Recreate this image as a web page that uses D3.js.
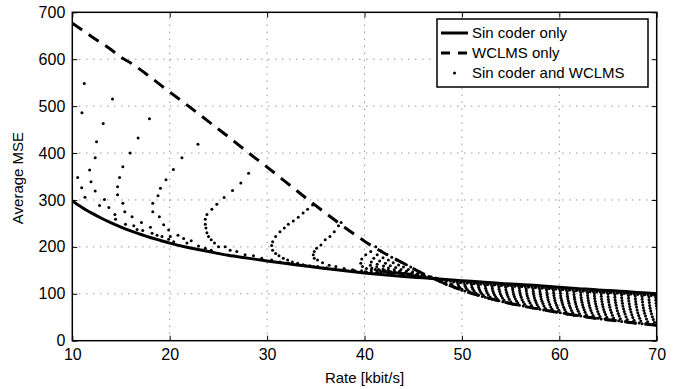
<!DOCTYPE html>
<html>
<head>
<meta charset="utf-8">
<script src="https://cdn.jsdelivr.net/npm/d3@7"></script>
<style>
  body { margin: 0; background: #fff; }
  text { font-family: "Liberation Sans", Arial, Helvetica, sans-serif; fill: #000; }
</style>
</head>
<body>
<div id="app"></div>
<script>
// axis ticks
const xTicks = [10, 20, 30, 40, 50, 60, 70];
const yTicks = [0, 100, 200, 300, 400, 500, 600, 700];

// "Sin coder only" curve
const sinRate = [10, 11, 12, 13, 14, 15, 16, 17, 18, 19, 20, 22, 24, 26, 28, 30, 32, 34, 36, 38, 40, 42, 44, 46, 48, 50, 52, 54, 56, 58, 60, 62, 64, 66, 68, 70];
const sinMse = [298, 284, 272, 261, 251, 242, 234, 227, 220, 214, 208, 198, 190, 182, 176, 170, 164.5, 159, 154, 149, 144.5, 140.5, 137, 134, 131, 128, 125, 122, 120, 117, 114, 111, 108, 106, 103, 100];

// "WCLMS only" curve
const wclmsRate = [10, 12, 14, 15, 16, 18, 20, 22, 24, 26, 28, 30, 32, 34, 36, 38, 40, 42, 44, 46, 48, 50, 52, 54, 56, 58, 60, 62, 64, 66, 68, 70];
const wclmsMse = [677, 648, 620, 604, 592, 562, 530, 499, 467, 435, 402, 370, 337, 304, 272, 241, 212, 187, 165, 143, 124, 108, 95, 84, 75, 67, 60, 53, 47, 42, 37, 33];

// "Sin coder and WCLMS" operating points, [rate, mse], left sparse part
const comboLeft = [
  [11.23, 548], [14.13, 515], [10.99, 486], [17.92, 473], [13.17, 463], [16.76, 432], [12.49, 424],
  [15.94, 400], [12.35, 390], [15.19, 371], [11.78, 364], [10.55, 348], [14.85, 348], [11.92, 339],
  [14.65, 328], [10.96, 326], [12.35, 319], [14.65, 311], [11.3, 306], [13.3, 301], [12.8, 288],
  [13.75, 284], [15.19, 293], [14.37, 269], [15.39, 275], [14.44, 259], [16.14, 264], [15.46, 248],
  [17.1, 252], [16.31, 245], [18.02, 242], [16.65, 237], [17.23, 235], [18.19, 229], [18.7, 225],
  [19.21, 222], [20.85, 225], [20.06, 222], [21.43, 218], [19.89, 216], [20.41, 211], [22.21, 213],
  [21.77, 208], [22.96, 202], [23.65, 197], [24.26, 193],
  [22.9, 419], [21.25, 390], [20.38, 365], [19.62, 343], [19.05, 325], [18.8, 309], [18.26, 293],
  [18.26, 275], [18.94, 264], [19.38, 247], [19.89, 236]
];

// C-shaped runs starting on the WCLMS curve, 24 to 47 kbit/s
const comboMid = [
  [[28.1, 357], [27.3, 336], [26.45, 320], [25.59, 305], [24.84, 291], [24.33, 280], [23.82, 269], [23.65, 259],
   [23.65, 248], [23.72, 240], [23.82, 230], [23.99, 222], [24.26, 215], [24.6, 208], [25.01, 200], [25.69, 200],
   [26.21, 193], [26.89, 190], [27.74, 183], [28.6, 181], [29.45, 176], [30.47, 172], [31.32, 168], [32.2, 165],
   [33.1, 162], [33.9, 160], [34.8, 157.5], [35.8, 155], [36.8, 152.5], [37.9, 150.5], [39.0, 148.5], [40.2, 146.5],
   [41.4, 144.5], [42.7, 142.5], [44.0, 140.5], [45.4, 138.5], [46.8, 136.5]],
  [[34.67, 289], [34.16, 280], [33.7, 272], [33.2, 263], [32.69, 255], [32.18, 248], [31.77, 240], [31.32, 232],
   [30.88, 222], [30.57, 211], [30.47, 203], [30.57, 193], [30.88, 186], [31.22, 181], [31.66, 176], [32.11, 172],
   [32.59, 168], [33.13, 165], [33.7, 162], [34.4, 160], [35.2, 158], [36.1, 155.5], [37.0, 153], [38.0, 151],
   [39.0, 149], [40.1, 147], [41.2, 145], [42.4, 143]],
  [[37.6, 252], [37.33, 245], [36.9, 232], [36.45, 222], [35.97, 215], [35.53, 204], [35.08, 197], [34.84, 190],
   [34.74, 183], [34.84, 176], [35.18, 172], [35.69, 166], [36.37, 161], [37.06, 158], [37.9, 154], [38.77, 151],
   [39.7, 149], [40.7, 147], [41.7, 145.5], [42.8, 143.5], [43.9, 141.5], [45.0, 139.5], [46.2, 137.5]],
  [[41.16, 200], [40.64, 190], [40.13, 183], [39.72, 174], [39.62, 165], [39.79, 158], [40.2, 154], [40.7, 151],
   [41.3, 149], [42, 147], [42.8, 145], [43.6, 143], [44.5, 141]],
  [[41.7, 191], [41.3, 183], [40.95, 176], [40.7, 168], [40.6, 161], [40.75, 155], [41.1, 151.5], [41.6, 149],
   [42.2, 147], [42.9, 145]],
  [[42.3, 184], [41.9, 177], [41.55, 170], [41.3, 163], [41.25, 157], [41.45, 152], [41.9, 149], [42.5, 147],
   [43.2, 145], [44, 143], [44.9, 141]],
  [[42.8, 178], [42.45, 172], [42.15, 165], [41.95, 159], [41.9, 153], [42.1, 149.5], [42.5, 147], [43.1, 145], [43.8, 143.5]],
  [[43.3, 172], [42.95, 166], [42.65, 160], [42.45, 155], [42.45, 150], [42.7, 147], [43.2, 145], [43.8, 143.5],
   [44.5, 142], [45.3, 140]],
  [[43.8, 167], [43.5, 161.5], [43.2, 156], [43.05, 151], [43.1, 147], [43.45, 145], [44, 143], [44.6, 141.5]],
  [[44.3, 162], [44, 157], [43.75, 152], [43.6, 148], [43.7, 145], [44.1, 143], [44.7, 141.5], [45.4, 140], [46.1, 138.5]],
  [[44.75, 157], [44.5, 152], [44.3, 148], [44.2, 144.5], [44.4, 142], [44.9, 140.5], [45.5, 139.3]],
  [[45.2, 151], [44.95, 147], [44.8, 143.5], [44.9, 141], [45.3, 139.5], [45.9, 138.5], [46.6, 137]],
  [[45.65, 147], [45.45, 143.5], [45.35, 140.5], [45.5, 138.5], [46, 137.3], [46.6, 136]],
  [[46.1, 142], [45.9, 139], [45.85, 137], [46.15, 135.5], [46.7, 134.5], [47.3, 133.5]],
  [[46.9, 134], [46.75, 133], [47.0, 132.5], [47.5, 132]]
];

// runs in the band between the two curves, 47 to 70 kbit/s
const comboBand = [
  [[48.2, 122], [48.0, 124], [47.8, 126], [47.7, 128], [47.9, 129]],
  [[48.9, 117], [48.4, 120], [48.2, 123], [48.4, 126], [48.8, 127]],
  [[49.6, 111], [49.22, 114.7], [49.0, 118.1], [48.9, 121.6], [49.15, 125], [49.5, 125]],
  [[50.3, 106], [50.0, 109.6], [49.79, 113.2], [49.66, 116.9], [49.6, 120.6], [49.85, 124], [50.2, 124]],
  [[51.0, 101], [50.75, 104.7], [50.56, 108.4], [50.43, 112.1], [50.34, 115.8], [50.3, 119.5], [50.55, 123], [50.9, 123]],
  [[51.7, 96.8], [51.45, 101.1], [51.26, 105.5], [51.13, 109.8], [51.04, 114.1], [51.0, 118.5], [51.25, 122], [51.6, 122]],
  [[52.4, 92.6], [52.19, 96.8], [52.02, 100.8], [51.89, 105], [51.8, 109.2], [51.73, 113.2], [51.7, 117.4], [51.95, 121], [52.3, 121]],
  [[53.1, 88.5], [52.89, 93.2], [52.72, 97.7], [52.59, 102.4], [52.5, 107.2], [52.43, 111.6], [52.4, 116.4], [52.65, 120], [53.0, 120]],
  [[53.8, 85], [53.62, 89.2], [53.46, 93.8], [53.34, 98], [53.25, 102.3], [53.18, 106.5], [53.12, 111.1], [53.1, 115.3], [53.35, 119], [53.7, 119]],
  [[54.5, 81.5], [54.32, 86.1], [54.16, 91], [54.04, 95.6], [53.95, 100.3], [53.88, 104.9], [53.82, 109.8], [53.8, 114.4], [54.05, 118], [54.4, 118]],
  [[55.2, 78.2], [55.02, 83.2], [54.86, 88.5], [54.74, 93.5], [54.65, 98.4], [54.58, 103.4], [54.52, 108.7], [54.5, 113.7], [54.75, 117.3], [55.1, 117.3]],
  [[55.9, 75.4], [55.74, 80.1], [55.6, 84.8], [55.48, 89.5], [55.39, 94.3], [55.31, 99], [55.26, 103.7], [55.22, 108.4], [55.2, 113.1], [55.45, 116.6], [55.8, 116.6]],
  [[56.6, 72.6], [56.44, 77.5], [56.3, 82.5], [56.18, 87.4], [56.09, 92.4], [56.01, 97.3], [55.96, 102.2], [55.92, 107.2], [55.9, 112.1], [56.15, 115.6], [56.5, 115.6]],
  [[57.3, 69.8], [57.14, 75], [57.0, 80.1], [56.88, 85.3], [56.79, 90.4], [56.71, 95.6], [56.66, 100.7], [56.62, 105.9], [56.6, 111], [56.85, 114.5], [57.2, 114.5]],
  [[58.0, 67], [57.86, 71.8], [57.72, 76.6], [57.62, 81.3], [57.53, 86.1], [57.45, 90.9], [57.4, 95.7], [57.35, 100.4], [57.32, 105.2], [57.3, 110], [57.55, 113.5], [57.9, 113.5]],
  [[58.7, 64.2], [58.56, 69.2], [58.42, 74.1], [58.32, 79.1], [58.23, 84.1], [58.15, 89.1], [58.1, 94], [58.05, 99], [58.02, 104], [58.0, 109], [58.25, 112.5], [58.6, 112.5]],
  [[59.4, 61.8], [59.26, 66.9], [59.12, 72], [59.02, 77.2], [58.93, 82.3], [58.85, 87.4], [58.8, 92.5], [58.75, 97.7], [58.72, 102.8], [58.7, 107.9], [58.95, 111.4], [59.3, 111.4]],
  [[60.1, 59.6], [59.96, 64.9], [59.82, 70.1], [59.72, 75.4], [59.63, 80.6], [59.55, 85.9], [59.5, 91.1], [59.45, 96.4], [59.42, 101.6], [59.4, 106.9], [59.65, 110.4], [60.0, 110.4]],
  [[60.8, 56.8], [60.67, 61.7], [60.55, 66.6], [60.45, 71.5], [60.36, 76.4], [60.29, 81.3], [60.23, 86.2], [60.18, 91.1], [60.14, 96], [60.11, 100.9], [60.1, 105.8], [60.35, 109.3], [60.7, 109.3]],
  [[61.5, 54.5], [61.37, 59.5], [61.25, 64.6], [61.15, 69.6], [61.06, 74.6], [60.99, 79.6], [60.93, 84.7], [60.88, 89.7], [60.84, 94.7], [60.81, 99.7], [60.8, 104.8], [61.05, 108.3], [61.4, 108.3]],
  [[62.2, 52.4], [62.07, 57.5], [61.95, 62.7], [61.85, 67.8], [61.76, 72.9], [61.69, 78.1], [61.63, 83.2], [61.58, 88.3], [61.54, 93.4], [61.51, 98.6], [61.5, 103.7], [61.75, 107.2], [62.1, 107.2]],
  [[62.9, 50.3], [62.77, 55.5], [62.65, 60.8], [62.55, 66], [62.46, 71.2], [62.39, 76.5], [62.33, 81.7], [62.28, 87], [62.24, 92.2], [62.21, 97.4], [62.2, 102.7], [62.45, 106.2], [62.8, 106.2]],
  [[63.6, 48.2], [63.47, 53.5], [63.35, 58.9], [63.25, 64.2], [63.16, 69.6], [63.09, 74.9], [63.03, 80.2], [62.98, 85.6], [62.94, 90.9], [62.91, 96.3], [62.9, 101.6], [63.15, 105.1], [63.5, 105.1]],
  [[64.3, 46.1], [64.17, 51.6], [64.05, 57], [63.95, 62.5], [63.86, 67.9], [63.79, 73.4], [63.73, 78.9], [63.68, 84.3], [63.64, 89.8], [63.61, 95.2], [63.6, 100.7], [63.85, 104.2], [64.2, 104.2]],
  [[65.0, 44.5], [64.87, 50], [64.75, 55.6], [64.65, 61.2], [64.56, 66.7], [64.49, 72.3], [64.43, 77.8], [64.38, 83.4], [64.34, 88.9], [64.31, 94.5], [64.3, 100], [64.55, 103.5], [64.9, 103.5]],
  [[65.7, 43], [65.57, 48.6], [65.45, 54.3], [65.35, 59.9], [65.26, 65.5], [65.19, 71.2], [65.13, 76.8], [65.08, 82.4], [65.04, 88], [65.01, 93.7], [65.0, 99.3], [65.25, 102.8], [65.6, 102.8]],
  [[66.4, 41], [66.27, 46.7], [66.15, 52.5], [66.05, 58.2], [65.96, 64], [65.89, 69.7], [65.83, 75.4], [65.78, 81.2], [65.74, 86.9], [65.71, 92.7], [65.7, 98.4], [65.95, 101.9], [66.3, 101.9]],
  [[67.1, 39.3], [66.97, 45.1], [66.85, 50.9], [66.75, 56.7], [66.66, 62.5], [66.59, 68.3], [66.53, 74.1], [66.48, 79.9], [66.44, 85.7], [66.41, 91.5], [66.4, 97.4], [66.65, 100.9], [67.0, 100.9]],
  [[67.8, 37.6], [67.67, 43.5], [67.55, 49.3], [67.45, 55.2], [67.36, 61.1], [67.29, 66.9], [67.23, 72.8], [67.18, 78.7], [67.14, 84.6], [67.11, 90.4], [67.1, 96.3], [67.35, 99.8], [67.7, 99.8]],
  [[68.5, 36], [68.37, 41.9], [68.25, 47.9], [68.15, 53.8], [68.06, 59.7], [67.99, 65.6], [67.93, 71.6], [67.88, 77.5], [67.84, 83.4], [67.81, 89.3], [67.8, 95.3], [68.05, 98.8], [68.4, 98.8]],
  [[69.2, 34.6], [69.07, 40.6], [68.95, 46.5], [68.85, 52.5], [68.76, 58.4], [68.69, 64.4], [68.63, 70.4], [68.58, 76.3], [68.54, 82.3], [68.51, 88.2], [68.5, 94.2], [68.75, 97.7], [69.1, 97.7]],
  [[69.9, 33.2], [69.77, 39.2], [69.65, 45.2], [69.55, 51.2], [69.46, 57.2], [69.39, 63.2], [69.33, 69.2], [69.28, 75.2], [69.24, 81.2], [69.21, 87.2], [69.2, 93.2], [69.45, 96.7], [69.8, 96.7]],
  [[70.6, 31.8], [70.47, 37.8], [70.35, 43.8], [70.25, 49.9], [70.16, 55.9], [70.09, 61.9], [70.03, 67.9], [69.98, 74], [69.94, 80], [69.91, 86], [69.9, 92], [70.15, 95.6]]
];

// extra points of the band runs: the foot next to the WCLMS curve and the tail under the sin curve
const comboBandEnds = [
  [49.3, 112.7], [49.85, 124.6], [50.0, 107.4], [50.55, 123.5], [50.7, 102.5], [51.25, 122.5],
  [51.4, 98.3], [51.95, 121.4], [52.1, 94.1], [52.65, 120.4], [52.8, 90], [53.35, 119.3],
  [53.5, 86.5], [54.05, 118.3], [54.2, 83], [54.75, 117.4], [54.9, 79.7], [55.45, 116.7],
  [55.6, 76.9], [56.15, 116.1], [56.3, 74.1], [56.85, 115.1], [57.0, 71.3], [57.55, 114],
  [57.7, 68.5], [58.25, 113], [58.4, 65.7], [58.95, 112], [59.1, 63.3], [59.65, 110.9],
  [59.8, 61.1], [60.35, 109.8], [60.5, 58.3], [61.05, 108.8], [61.2, 56], [61.75, 107.7],
  [61.9, 53.9], [62.45, 106.7], [62.6, 51.8], [63.15, 105.6], [63.3, 49.7], [63.85, 104.6],
  [64.0, 47.6], [64.55, 103.7], [64.7, 46], [65.25, 103], [65.4, 44.5], [65.95, 102.3],
  [66.1, 42.5], [66.65, 101.4], [66.8, 40.8], [67.35, 100.4], [67.5, 39.1], [68.05, 99.3],
  [68.2, 37.5], [68.75, 98.3], [68.9, 36.1], [69.45, 97.2], [69.6, 34.7], [70.15, 96.2]
];

const legendLabels = ["Sin coder only", "WCLMS only", "Sin coder and WCLMS"];

const width = 685, height = 389;
const margin = {left: 72.3, right: 28.3, top: 12.3, bottom: 48.3};

const x = d3.scaleLinear().domain([10, 70]).range([margin.left, width - margin.right]);
const y = d3.scaleLinear().domain([0, 700]).range([height - margin.bottom, margin.top]);

const svg = d3.select("#app").append("svg")
    .attr("width", width)
    .attr("height", height)
    .attr("viewBox", [0, 0, width, height]);

svg.append("defs").append("clipPath").attr("id", "plot")
  .append("rect")
    .attr("x", x(10)).attr("y", y(700))
    .attr("width", x(70) - x(10)).attr("height", y(0) - y(700));

// dotted grid
const grid = svg.append("g").attr("stroke", "#666").attr("stroke-width", 1).attr("stroke-dasharray", "1,6");
grid.selectAll(".gx").data(xTicks.slice(1, -1)).join("line")
    .attr("x1", d => x(d)).attr("x2", d => x(d))
    .attr("y1", y(0)).attr("y2", y(700));
grid.selectAll(".gy").data(yTicks.slice(1, -1)).join("line")
    .attr("x1", x(10)).attr("x2", x(70))
    .attr("y1", d => y(d)).attr("y2", d => y(d));

const plot = svg.append("g").attr("clip-path", "url(#plot)");

const line = d3.line().x(d => x(d[0])).y(d => y(d[1])).curve(d3.curveMonotoneX);

plot.append("path")
    .attr("fill", "none")
    .attr("stroke", "#000")
    .attr("stroke-width", 3)
    .attr("d", line(sinRate.map((r, i) => [r, sinMse[i]])));

plot.append("path")
    .attr("fill", "none")
    .attr("stroke", "#000")
    .attr("stroke-width", 3)
    .attr("stroke-dasharray", "12,8")
    .attr("d", line(wclmsRate.map((r, i) => [r, wclmsMse[i]])));

const dots = comboLeft.concat(comboMid.flat(), comboBand.flat(), comboBandEnds);
plot.append("g")
  .selectAll("circle")
  .data(dots)
  .join("circle")
    .attr("cx", d => x(d[0]))
    .attr("cy", d => y(d[1]))
    .attr("r", 1.5)
    .attr("fill", "#000");

// axes, MATLAB style: ticks pointing inwards on all four sides
const fontSize = 16;
svg.append("g")
    .attr("transform", `translate(0,${y(0)})`)
    .call(d3.axisBottom(x).tickValues(xTicks).tickSizeInner(-5).tickSizeOuter(0).tickPadding(8))
    .call(g => g.select(".domain").remove())
    .call(g => g.selectAll("text").attr("font-size", fontSize).attr("font-family", null));
svg.append("g")
    .attr("transform", `translate(${x(10)},0)`)
    .call(d3.axisLeft(y).tickValues(yTicks).tickSizeInner(-5).tickSizeOuter(0).tickPadding(7))
    .call(g => g.select(".domain").remove())
    .call(g => g.selectAll("text").attr("font-size", fontSize).attr("font-family", null));
svg.append("g")
    .attr("transform", `translate(0,${y(700)})`)
    .call(d3.axisTop(x).tickValues(xTicks).tickSizeInner(-5).tickSizeOuter(0).tickFormat(""))
    .call(g => g.select(".domain").remove());
svg.append("g")
    .attr("transform", `translate(${x(70)},0)`)
    .call(d3.axisRight(y).tickValues(yTicks).tickSizeInner(-5).tickSizeOuter(0).tickFormat(""))
    .call(g => g.select(".domain").remove());
svg.selectAll(".tick line").attr("stroke", "#000").attr("stroke-width", 1);

svg.append("rect")
    .attr("x", x(10)).attr("y", y(700))
    .attr("width", x(70) - x(10)).attr("height", y(0) - y(700))
    .attr("fill", "none").attr("stroke", "#000").attr("stroke-width", 1.5);

svg.append("text")
    .attr("x", (x(10) + x(70)) / 2).attr("y", 383)
    .attr("text-anchor", "middle")
    .attr("font-size", 15)
    .text("Rate [kbit/s]");
svg.append("text")
    .attr("transform", `translate(23,178) rotate(-90)`)
    .attr("text-anchor", "middle")
    .attr("font-size", 15)
    .text("Average MSE");

// legend
const lg = svg.append("g").attr("transform", "translate(437,19)");
lg.append("rect")
    .attr("width", 211).attr("height", 68)
    .attr("fill", "#fff").attr("stroke", "#000").attr("stroke-width", 1.5);
const rows = lg.selectAll("g").data(legendLabels).join("g")
    .attr("transform", (d, i) => `translate(0,${14 + i * 20})`);
rows.filter((d, i) => i === 0).append("line")
    .attr("x1", 4).attr("x2", 31).attr("stroke", "#000").attr("stroke-width", 3);
rows.filter((d, i) => i === 1).append("line")
    .attr("x1", 4).attr("x2", 31).attr("stroke", "#000").attr("stroke-width", 3)
    .attr("stroke-dasharray", "9,8");
rows.filter((d, i) => i === 2).append("circle")
    .attr("cx", 17.5).attr("r", 1.5).attr("fill", "#000");
rows.append("text")
    .attr("x", 35).attr("dy", "0.35em")
    .attr("font-size", 15)
    .text(d => d);
</script>
</body>
</html>
